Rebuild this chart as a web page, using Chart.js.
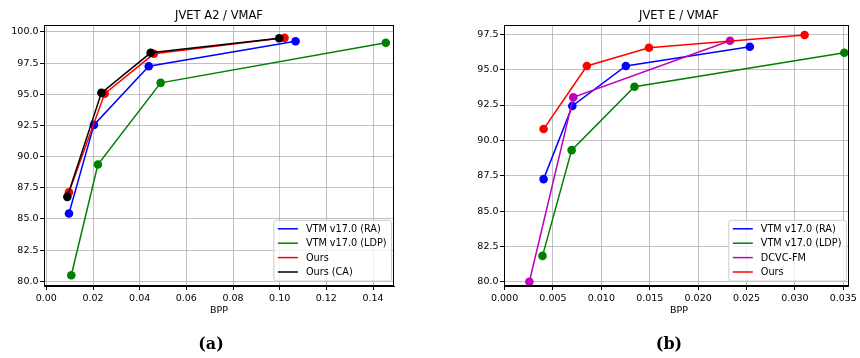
<!DOCTYPE html>
<html>
<head>
<meta charset="utf-8">
<script src="https://cdn.jsdelivr.net/npm/chart.js@4.4.0/dist/chart.umd.min.js"></script>
<style>
  html, body { margin: 0; padding: 0; background: #fff; }
  body { width: 860px; height: 358px; position: relative; overflow: hidden; font-family: "DejaVu Sans", sans-serif; }
  .pane { position: absolute; top: 0; width: 430px; height: 358px; }
  .txt { position: absolute; color: #000; white-space: nowrap; transform: translate(-50%, -50%); }
  .title { font-size: 11.5px; }
  .xlab { font-size: 9.5px; }
  .cap { font-family: "DejaVu Serif", serif; font-weight: bold; font-size: 16px; }
</style>
</head>
<body>
<div class="pane" style="left:0"><canvas id="c1"></canvas></div>
<div class="pane" style="left:430px"><canvas id="c2"></canvas></div>
<div class="txt title" style="left:219px; top:15px">JVET A2 / VMAF</div>
<div class="txt title" style="left:679px; top:15px">JVET E / VMAF</div>
<div class="txt xlab" style="left:219px; top:309px">BPP</div>
<div class="txt xlab" style="left:679px; top:309px">BPP</div>
<div class="txt cap" style="left:211px; top:343px">(a)</div>
<div class="txt cap" style="left:669px; top:343px">(b)</div>
<script>
// ---------- Data: JVET A2 / VMAF ----------
const a2Labels = ["VTM v17.0 (RA)", "VTM v17.0 (LDP)", "Ours", "Ours (CA)"];
const a2RA_bpp  = [0.0097, 0.0204, 0.0439, 0.1068];
const a2RA_vmaf = [85.43, 92.54, 97.24, 99.25];
const a2LDP_bpp  = [0.0107, 0.0221, 0.0490, 0.1455];
const a2LDP_vmaf = [80.48, 89.36, 95.91, 99.12];
const a2Ours_bpp  = [0.0097, 0.0250, 0.0461, 0.1021];
const a2Ours_vmaf = [87.14, 95.05, 98.24, 99.52];
const a2CA_bpp  = [0.0090, 0.0236, 0.0447, 0.0998];
const a2CA_vmaf = [86.77, 95.11, 98.32, 99.49];
const a2XTicks = [0.00, 0.02, 0.04, 0.06, 0.08, 0.10, 0.12, 0.14];
const a2YTicks = [80.0, 82.5, 85.0, 87.5, 90.0, 92.5, 95.0, 97.5, 100.0];

// ---------- Data: JVET E / VMAF ----------
const eLabels = ["VTM v17.0 (RA)", "VTM v17.0 (LDP)", "DCVC-FM", "Ours"];
const eRA_bpp  = [0.00403, 0.0070, 0.01253, 0.02534];
const eRA_vmaf = [87.26, 92.43, 95.26, 96.62];
const eLDP_bpp  = [0.00392, 0.00693, 0.01342, 0.0351];
const eLDP_vmaf = [81.83, 89.31, 93.79, 96.20];
const eDCVC_bpp  = [0.00256, 0.0071, 0.02329];
const eDCVC_vmaf = [80.00, 93.04, 97.05];
const eOurs_bpp  = [0.00403, 0.0085, 0.01492, 0.0310];
const eOurs_vmaf = [90.80, 95.26, 96.55, 97.45];
const eXTicks = [0.000, 0.005, 0.010, 0.015, 0.020, 0.025, 0.030, 0.035];
const eYTicks = [80.0, 82.5, 85.0, 87.5, 90.0, 92.5, 95.0, 97.5];

const FONT = "DejaVu Sans";
const pts = (xs, ys) => xs.map((x, i) => ({ x: x, y: ys[i] }));

function ds(label, xs, ys, color, order) {
  return {
    label: label,
    data: pts(xs, ys),
    borderColor: color,
    backgroundColor: color,
    pointBackgroundColor: color,
    pointBorderColor: color,
    pointBorderWidth: 0,
    pointRadius: 4.3,
    pointHoverRadius: 4.3,
    borderWidth: 1.5,
    showLine: true,
    tension: 0,
    order: order,
    clip: false
  };
}

const framePlugin = {
  id: 'frame',
  afterDraw(chart) {
    const a = chart.chartArea, ctx = chart.ctx;
    ctx.save();
    ctx.strokeStyle = '#000';
    ctx.lineWidth = 1;
    ctx.strokeRect(Math.round(a.left) + 0.5, Math.round(a.top) + 0.5,
                   Math.round(a.right - a.left) - 1, Math.round(a.bottom - a.top) - 1);
    // legend
    const items = chart.data.datasets;
    ctx.font = '9.7px "' + FONT + '"';
    let maxW = 0;
    items.forEach(d => { maxW = Math.max(maxW, ctx.measureText(d.label).width); });
    const rowH = 14.4;
    const boxW = 4 + 20 + 8 + maxW + 5;
    const boxH = rowH * (items.length - 1) + 17.5;
    const bx = a.right - 2.5 - boxW;
    const by = a.bottom - 5 - boxH;
    ctx.beginPath();
    const r = 2.5;
    ctx.moveTo(bx + r, by);
    ctx.lineTo(bx + boxW - r, by);
    ctx.quadraticCurveTo(bx + boxW, by, bx + boxW, by + r);
    ctx.lineTo(bx + boxW, by + boxH - r);
    ctx.quadraticCurveTo(bx + boxW, by + boxH, bx + boxW - r, by + boxH);
    ctx.lineTo(bx + r, by + boxH);
    ctx.quadraticCurveTo(bx, by + boxH, bx, by + boxH - r);
    ctx.lineTo(bx, by + r);
    ctx.quadraticCurveTo(bx, by, bx + r, by);
    ctx.closePath();
    ctx.fillStyle = 'rgba(255,255,255,0.8)';
    ctx.fill();
    ctx.strokeStyle = '#cccccc';
    ctx.lineWidth = 1;
    ctx.stroke();
    items.forEach((d, i) => {
      const cy = by + 8.5 + i * rowH;
      ctx.beginPath();
      ctx.strokeStyle = d.borderColor;
      ctx.lineWidth = 1.5;
      ctx.moveTo(bx + 4, cy);
      ctx.lineTo(bx + 24, cy);
      ctx.stroke();
      ctx.fillStyle = '#000';
      ctx.textBaseline = 'middle';
      ctx.textAlign = 'left';
      ctx.fillText(d.label, bx + 32, cy + 0.5);
    });
    ctx.restore();
  }
};

function makeChart(id, datasets, xMin, xMax, yMin, yMax, xTicks, yTicks, xDec, padLeft, padRight) {
  return new Chart(document.getElementById(id), {
    type: 'scatter',
    data: { datasets: datasets },
    options: {
      responsive: true,
      maintainAspectRatio: false,
      animation: false,
      events: [],
      layout: { padding: { left: padLeft, right: padRight, top: 25, bottom: 42 } },
      plugins: { legend: { display: false }, tooltip: { enabled: false }, title: { display: false } },
      scales: {
        x: {
          type: 'linear',
          min: xMin, max: xMax,
          afterBuildTicks: s => { s.ticks = xTicks.map(v => ({ value: v })); },
          afterFit: s => { s.height = 30; },
          ticks: {
            callback: v => Number(v).toFixed(xDec),
            color: '#000', font: { family: FONT, size: 9.5 }, padding: 3,
            maxRotation: 0, autoSkip: false
          },
          grid: { color: '#b0b0b0', lineWidth: 0.8, tickLength: 4, tickColor: '#000', tickWidth: 1 },
          border: { display: true, color: '#000', width: 1 }
        },
        y: {
          type: 'linear',
          min: yMin, max: yMax,
          afterBuildTicks: s => { s.ticks = yTicks.map(v => ({ value: v })); },
          afterFit: s => { s.width = 44; },
          ticks: {
            callback: v => Number(v).toFixed(1),
            color: '#000', font: { family: FONT, size: 9.5 }, padding: 1.5, autoSkip: false
          },
          grid: { color: '#b0b0b0', lineWidth: 0.8, tickLength: 4, tickColor: '#000', tickWidth: 1 },
          border: { display: true, color: '#000', width: 1 }
        }
      }
    },
    plugins: [framePlugin]
  });
}

makeChart('c1', [
  ds(a2Labels[0], a2RA_bpp, a2RA_vmaf, '#0000ff', 3),
  ds(a2Labels[1], a2LDP_bpp, a2LDP_vmaf, '#008000', 2),
  ds(a2Labels[2], a2Ours_bpp, a2Ours_vmaf, '#ff0000', 1),
  ds(a2Labels[3], a2CA_bpp, a2CA_vmaf, '#000000', 0)
], -0.001, 0.149, 79.62, 100.55, a2XTicks, a2YTicks, 2, 0, 36);

makeChart('c2', [
  ds(eLabels[0], eRA_bpp, eRA_vmaf, '#0000ff', 3),
  ds(eLabels[1], eLDP_bpp, eLDP_vmaf, '#008000', 2),
  ds(eLabels[2], eDCVC_bpp, eDCVC_vmaf, '#bf00bf', 1),
  ds(eLabels[3], eOurs_bpp, eOurs_vmaf, '#ff0000', 0)
], -0.00006, 0.03558, 79.70, 98.16, eXTicks, eYTicks, 3, 30, 6);
</script>
</body>
</html>
